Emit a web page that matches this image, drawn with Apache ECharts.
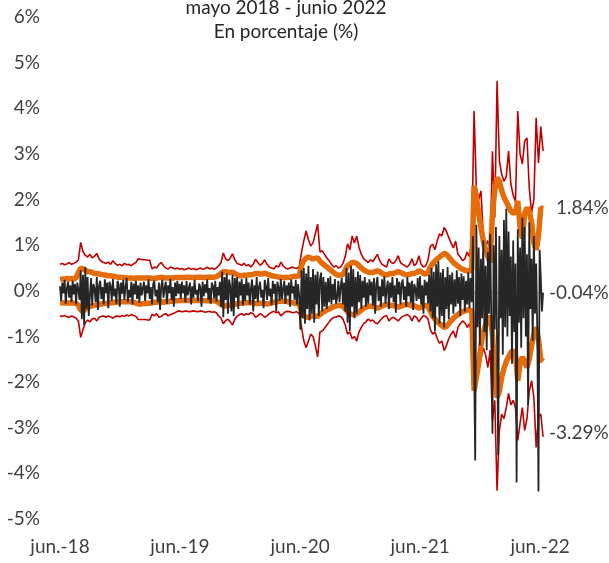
<!DOCTYPE html>
<html>
<head>
<meta charset="utf-8">
<script src="https://cdn.jsdelivr.net/npm/echarts@6/dist/echarts.min.js"></script>
<style>html,body{margin:0;padding:0;background:#fff;}#c{width:609px;height:563px;}</style>
</head>
<body>
<div id="c"></div>
<script>
// ---- Data (percent) ----
const titleLines = ['mayo 2018 - junio 2022', 'En porcentaje (%)'];
const tickDates = ['2018-06-01', '2019-06-01', '2020-06-01', '2021-06-01', '2022-06-01'];
const tickLabels = ['jun.-18', 'jun.-19', 'jun.-20', 'jun.-21', 'jun.-22'];
const startDate = '2018-06-01';
const bandStepDays = 7;
const returnStepDays = 3.5;
const endLabels = ['1.84%', '-0.04%', '-3.29%'];
const meanValues = [-0.04, -0.04];

// red: upper 2-sigma band (weekly)
const redUpper = [
0.58,0.60,0.57,0.59,0.62,0.58,0.60,0.63,0.68,1.06,
0.86,0.78,0.74,0.80,0.72,0.76,0.82,0.70,0.64,0.62,
0.60,0.63,0.58,0.66,0.60,0.56,0.58,0.55,0.60,0.57,
0.58,0.55,0.59,0.62,0.70,0.69,0.68,0.68,0.67,0.67,
0.48,0.52,0.50,0.58,0.62,0.55,0.50,0.48,0.52,0.50,
0.48,0.50,0.47,0.49,0.46,0.48,0.50,0.47,0.49,0.46,
0.48,0.50,0.47,0.49,0.52,0.48,0.50,0.47,0.50,0.55,
0.62,0.83,0.70,0.66,0.72,0.81,0.68,0.60,0.58,0.56,
0.60,0.55,0.57,0.52,0.58,0.69,0.62,0.56,0.60,0.68,
0.58,0.52,0.50,0.48,0.55,0.52,0.63,0.55,0.50,0.48,
0.50,0.52,0.50,0.49,0.53,0.85,1.10,1.31,1.12,0.98,
1.05,1.25,1.46,0.85,0.88,0.80,0.72,0.66,0.58,0.52,
0.55,0.50,0.52,0.60,0.75,1.03,0.90,1.20,1.05,1.20,
0.95,0.80,0.70,0.66,0.62,0.68,0.64,0.72,0.80,0.66,
0.58,0.55,0.52,0.70,0.62,0.60,0.66,0.77,0.62,0.58,
0.55,0.52,0.58,0.70,0.55,0.60,0.77,0.58,0.52,0.55,
0.68,0.98,1.02,0.90,1.10,1.25,1.20,1.39,1.30,1.17,
1.05,0.94,1.09,0.80,0.74,0.66,0.70,0.85,0.75,1.10,
3.94,2.25,2.00,2.19,1.25,0.95,1.10,0.88,3.06,1.60,
4.60,2.85,2.56,2.40,2.50,3.06,2.34,2.10,1.95,3.94,
3.00,2.78,3.28,3.35,2.25,1.70,2.00,3.79,2.80,3.60,3.06
];
// orange: upper 1-sigma band (weekly)
const orangeUpper = [
0.25,0.26,0.26,0.27,0.26,0.27,0.26,0.28,0.40,0.50,
0.48,0.45,0.42,0.42,0.40,0.38,0.38,0.37,0.36,0.35,
0.34,0.33,0.33,0.32,0.31,0.30,0.30,0.29,0.29,0.28,
0.28,0.28,0.27,0.28,0.28,0.28,0.28,0.28,0.28,0.28,
0.27,0.27,0.28,0.29,0.30,0.29,0.28,0.28,0.28,0.28,
0.29,0.29,0.29,0.29,0.29,0.30,0.30,0.29,0.29,0.29,
0.30,0.30,0.29,0.29,0.30,0.30,0.30,0.30,0.31,0.34,
0.38,0.42,0.42,0.40,0.40,0.41,0.38,0.35,0.33,0.33,
0.34,0.34,0.35,0.35,0.36,0.38,0.38,0.37,0.37,0.39,
0.37,0.35,0.33,0.32,0.31,0.30,0.30,0.29,0.29,0.29,
0.30,0.31,0.32,0.32,0.33,0.55,0.66,0.72,0.74,0.72,
0.70,0.71,0.72,0.65,0.60,0.56,0.52,0.48,0.44,0.40,
0.36,0.34,0.34,0.36,0.45,0.55,0.58,0.62,0.62,0.60,
0.55,0.50,0.46,0.43,0.41,0.40,0.40,0.42,0.44,0.42,
0.38,0.36,0.35,0.37,0.38,0.38,0.40,0.42,0.40,0.38,
0.36,0.35,0.36,0.38,0.38,0.40,0.44,0.42,0.38,0.37,
0.40,0.52,0.60,0.65,0.70,0.74,0.78,0.82,0.80,0.74,
0.68,0.62,0.58,0.54,0.50,0.47,0.45,0.44,0.44,0.45,
2.30,2.05,1.70,1.40,1.10,0.90,0.75,0.62,1.70,2.20,
2.48,2.40,2.20,2.05,1.95,1.85,1.75,1.70,1.72,1.97,
1.40,1.15,1.70,1.82,1.75,1.50,1.05,0.90,1.20,1.82,1.80
];
// orange: lower 1-sigma band (weekly)
const orangeLower = [
-0.26,-0.26,-0.27,-0.26,-0.27,-0.26,-0.27,-0.27,-0.32,-0.42,
-0.45,-0.40,-0.36,-0.34,-0.33,-0.32,-0.31,-0.30,-0.29,-0.28,
-0.28,-0.27,-0.26,-0.26,-0.25,-0.25,-0.24,-0.24,-0.24,-0.24,
-0.24,-0.24,-0.25,-0.27,-0.29,-0.29,-0.28,-0.28,-0.27,-0.27,
-0.26,-0.25,-0.25,-0.24,-0.24,-0.25,-0.24,-0.24,-0.23,-0.23,
-0.22,-0.22,-0.21,-0.21,-0.21,-0.21,-0.21,-0.21,-0.21,-0.21,
-0.21,-0.21,-0.21,-0.22,-0.22,-0.22,-0.22,-0.22,-0.23,-0.26,
-0.30,-0.33,-0.33,-0.32,-0.32,-0.32,-0.30,-0.28,-0.27,-0.27,
-0.26,-0.26,-0.26,-0.26,-0.27,-0.28,-0.28,-0.27,-0.27,-0.28,
-0.29,-0.28,-0.26,-0.25,-0.24,-0.23,-0.23,-0.23,-0.23,-0.24,
-0.25,-0.26,-0.27,-0.28,-0.29,-0.45,-0.55,-0.58,-0.58,-0.56,
-0.55,-0.56,-0.56,-0.52,-0.48,-0.45,-0.42,-0.40,-0.37,-0.35,
-0.33,-0.32,-0.32,-0.34,-0.40,-0.46,-0.50,-0.52,-0.52,-0.50,
-0.46,-0.42,-0.38,-0.36,-0.34,-0.34,-0.34,-0.36,-0.38,-0.36,
-0.33,-0.31,-0.30,-0.31,-0.32,-0.32,-0.34,-0.36,-0.34,-0.32,
-0.30,-0.30,-0.31,-0.33,-0.33,-0.35,-0.38,-0.36,-0.33,-0.32,
-0.35,-0.45,-0.55,-0.62,-0.68,-0.72,-0.76,-0.80,-0.78,-0.72,
-0.66,-0.60,-0.56,-0.52,-0.48,-0.46,-0.44,-0.42,-0.42,-0.44,
-2.19,-1.90,-1.60,-1.20,-0.90,-0.75,-0.65,-0.55,-0.95,-1.80,
-2.34,-2.20,-1.90,-1.70,-1.55,-1.45,-1.35,-1.30,-1.40,-1.97,
-1.60,-1.45,-1.55,-1.68,-1.50,-1.20,-0.95,-0.80,-1.05,-1.50,-1.55
];
// red: lower 2-sigma band (weekly)
const redLower = [
-0.55,-0.56,-0.54,-0.57,-0.58,-0.55,-0.57,-0.60,-0.66,-1.02,
-0.85,-0.70,-0.64,-0.68,-0.62,-0.60,-0.66,-0.58,-0.56,-0.55,
-0.58,-0.55,-0.57,-0.60,-0.56,-0.55,-0.57,-0.54,-0.56,-0.53,
-0.55,-0.52,-0.54,-0.56,-0.63,-0.63,-0.63,-0.63,-0.64,-0.64,
-0.52,-0.55,-0.50,-0.58,-0.56,-0.52,-0.50,-0.55,-0.52,-0.50,
-0.48,-0.45,-0.44,-0.46,-0.45,-0.44,-0.46,-0.45,-0.44,-0.45,
-0.46,-0.44,-0.45,-0.47,-0.46,-0.45,-0.47,-0.46,-0.48,-0.55,
-0.60,-0.72,-0.65,-0.62,-0.68,-0.75,-0.62,-0.56,-0.52,-0.50,
-0.54,-0.50,-0.52,-0.48,-0.50,-0.58,-0.55,-0.50,-0.53,-0.58,
-0.55,-0.50,-0.47,-0.45,-0.48,-0.46,-0.55,-0.50,-0.46,-0.45,
-0.46,-0.48,-0.47,-0.46,-0.50,-0.80,-1.10,-1.25,-1.10,-0.95,
-1.00,-1.20,-1.45,-0.90,-0.88,-0.82,-0.75,-0.68,-0.62,-0.58,
-0.58,-0.55,-0.56,-0.62,-0.75,-0.95,-0.90,-1.05,-1.00,-1.10,
-0.90,-0.80,-0.72,-0.68,-0.62,-0.66,-0.64,-0.70,-0.72,-0.66,
-0.60,-0.56,-0.54,-0.66,-0.60,-0.58,-0.62,-0.66,-0.60,-0.56,
-0.54,-0.52,-0.56,-0.66,-0.55,-0.58,-0.68,-0.60,-0.54,-0.56,
-0.62,-0.85,-0.95,-0.90,-1.05,-1.15,-1.10,-1.31,-1.20,-1.05,
-0.95,-0.88,-1.03,-0.80,-0.72,-0.66,-0.70,-0.80,-0.72,-0.95,
-2.10,-2.00,-1.70,-1.50,-1.25,-1.40,-1.68,-1.30,-2.84,-2.40,
-4.38,-3.06,-2.70,-2.80,-2.56,-2.25,-2.50,-2.40,-2.56,-3.28,
-2.90,-2.56,-3.06,-2.80,-2.20,-1.97,-2.34,-3.43,-2.75,-2.70,-3.20
];
// black: returns (twice weekly)
const returns = [
0.10,-0.22,0.18,-0.05,0.24,-0.28,0.05,0.20,-0.15,0.12,-0.25,0.22,-0.08,0.15,-0.30,0.18,0.02,-0.20,
0.45,-0.62,0.35,-0.75,0.52,-0.40,0.30,-0.55,
-0.10,0.28,-0.32,0.15,0.05,-0.25,0.30,-0.42,0.12,0.22,
-0.18,0.08,-0.30,0.25,-0.05,0.18,-0.38,0.20,0.10,-0.22,
0.26,-0.12,0.05,-0.28,0.22,0.14,-0.35,0.18,-0.06,0.24,
-0.20,0.10,0.28,-0.25,0.02,-0.15,0.20,-0.30,0.16,-0.08,
0.22,-0.18,0.12,-0.26,
0.18,-0.10,0.05,0.20,-0.22,0.12,-0.05,0.25,-0.18,0.08,
-0.30,0.15,0.22,-0.12,0.02,-0.25,0.18,-0.42,0.10,0.24,
-0.15,0.06,0.20,-0.28,0.12,-0.05,0.26,-0.20,0.08,-0.35,
0.18,-0.12,0.22,-0.06,0.15,
-0.18,0.20,-0.05,0.12,-0.25,0.22,-0.10,0.05,0.18,-0.30,
0.10,-0.15,0.24,-0.08,0.02,-0.22,0.16,0.08,-0.35,0.20,
-0.12,0.14,-0.04,0.25,-0.20,0.06,-0.28,0.18,0.10,-0.16,
0.22,-0.24,0.08,-0.10,0.20,
-0.35,0.42,-0.58,0.30,-0.20,0.38,-0.50,0.25,0.10,-0.45,
0.35,-0.55,0.28,-0.15,0.30,-0.40,0.20,-0.10,0.26,-0.32,0.15,
-0.22,0.28,-0.10,0.18,-0.30,0.06,0.25,-0.45,0.12,-0.18,
0.30,-0.25,0.08,0.20,-0.15,0.02,-0.38,0.24,0.10,-0.20,
0.28,-0.12,0.05,-0.32,0.22,-0.06,0.15,-0.45,0.20,0.08,
-0.22,0.26,-0.18,0.04,0.22,-0.28,0.12,-0.10,0.18,-0.35,
0.25,-0.05,0.10,-0.20,0.24,-0.30,0.15,-0.12,
-0.85,0.45,-0.60,0.50,-0.72,0.38,-0.40,0.55,-0.65,0.30,
-0.50,0.48,-0.70,0.35,-0.30,0.42,-0.55,0.25,0.40,-0.45,
0.30,-0.35,0.20,-0.40,0.28,-0.25,0.32,-0.30,0.15,-0.20,
0.26,-0.28,
-0.15,0.22,-0.25,0.10,0.28,-0.30,0.18,-0.45,0.50,-0.70,
0.40,-0.88,0.55,-0.35,0.48,-0.60,0.30,-0.50,0.42,-0.25,
0.35,-0.40,0.22,-0.15,0.30,-0.35,0.18,-0.28,0.25,-0.10,
0.20,-0.32,0.28,-0.50,0.15,0.30,-0.22,0.10,-0.35,0.25,
-0.12,0.32,-0.28,0.05,0.22,-0.40,0.18,-0.15,0.30,-0.25,
0.12,-0.48,0.28,-0.08,0.20,-0.30,0.15,0.25,-0.20,0.10,
-0.35,0.30,-0.12,0.18,-0.26,0.22,-0.42,0.15,0.05,-0.22,
0.28,-0.18,0.32,-0.30,0.12,-0.50,0.24,-0.10,0.20,-0.28,
0.35,-0.45,0.50,-0.60,0.42,-0.88,0.58,-0.35,0.65,-0.72,
0.40,-0.55,0.48,-0.80,0.30,-0.40,0.52,-0.62,0.35,-0.30,
0.40,-0.50,0.25,-0.35,0.45,-0.28,0.30,-0.55,0.38,-0.20,
0.32,-0.45,0.22,-0.30,0.40,-0.38,0.28,-0.25,
1.20,-1.50,-3.72,1.45,-0.80,0.95,-1.20,0.70,-0.60,1.10,
-0.90,0.55,-1.30,0.85,-0.50,1.25,-0.70,-3.13,1.00,-0.85,
1.40,-1.10,-3.60,1.20,-0.60,0.90,-1.40,1.55,-0.80,1.80,
-1.00,1.30,-0.55,0.75,-1.60,1.10,-0.90,0.60,-4.20,1.35,
-0.70,0.95,-1.25,1.60,-0.60,1.40,-1.00,0.80,-2.50,1.50,
-0.40,0.70,-1.10,1.20,-0.50,0.60,-0.90,-4.40,0.90,0.30,
-0.45,-0.04
];

// ---- Build (x in days since startDate) ----
const DAY = 86400000;
const t0 = Date.parse(startDate + 'T00:00:00Z');
const bandData = arr => arr.map((v, k) => [k * bandStepDays, v]);
const retData = returns.map((v, k) => [k * returnStepDays, v]);
const dEnd = (redUpper.length - 1) * bandStepDays;
const meanData = [[0, meanValues[0]], [dEnd, meanValues[1]]];
const tickDays = tickDates.map(d => (Date.parse(d + 'T00:00:00Z') - t0) / DAY);

const FONT = 'Lato';
const chart = echarts.init(document.getElementById('c'), null, {renderer: 'canvas'});
const lineBase = {type: 'line', symbol: 'none', showSymbol: false, animation: false, silent: true};

chart.setOption({
  animation: false,
  backgroundColor: '#ffffff',
  grid: {left: 48, right: 61, top: 17, bottom: 44},
  xAxis: {
    type: 'value',
    min: -36.5,
    max: 1485,
    axisLine: {show: false},
    axisTick: {show: false},
    splitLine: {show: false},
    axisLabel: {
      customValues: tickDays,
      margin: 18,
      color: '#404040',
      fontFamily: FONT,
      fontSize: 19,
      formatter: function (v) {
        let best = 0, bd = Infinity;
        tickDays.forEach((t, k) => { const d = Math.abs(t - v); if (d < bd) { bd = d; best = k; } });
        return tickLabels[best];
      }
    }
  },
  yAxis: {
    type: 'value',
    min: -5, max: 6, interval: 1,
    axisLine: {show: false},
    axisTick: {show: false},
    splitLine: {show: false},
    axisLabel: {formatter: '{value}%', color: '#404040', fontFamily: FONT, fontSize: 19, margin: 8}
  },
  graphic: [
    {type: 'text', x: 286, y: 8, style: {text: titleLines[0], font: '19px ' + FONT, fill: '#262626', align: 'center', verticalAlign: 'middle'}},
    {type: 'text', x: 286, y: 32, style: {text: titleLines[1], font: '19px ' + FONT, fill: '#262626', align: 'center', verticalAlign: 'middle'}},
    {type: 'text', x: 556, y: 208, style: {text: endLabels[0], font: '19px ' + FONT, fill: '#404040', verticalAlign: 'middle'}},
    {type: 'text', x: 549, y: 293, style: {text: endLabels[1], font: '19px ' + FONT, fill: '#404040', verticalAlign: 'middle'}},
    {type: 'text', x: 549, y: 433, style: {text: endLabels[2], font: '19px ' + FONT, fill: '#404040', verticalAlign: 'middle'}}
  ],
  series: [
    Object.assign({}, lineBase, {name: 'redU', data: bandData(redUpper), z: 2, lineStyle: {color: '#C00000', width: 1.6}}),
    Object.assign({}, lineBase, {name: 'redL', data: bandData(redLower), z: 2, lineStyle: {color: '#C00000', width: 1.6}}),
    Object.assign({}, lineBase, {name: 'orU', data: bandData(orangeUpper), z: 3, lineStyle: {color: '#E46C0A', width: 5.5}}),
    Object.assign({}, lineBase, {name: 'orL', data: bandData(orangeLower), z: 3, lineStyle: {color: '#E46C0A', width: 5.5}}),
    Object.assign({}, lineBase, {name: 'mean', data: meanData, z: 4, lineStyle: {color: '#BFBFBF', width: 1.5}}),
    Object.assign({}, lineBase, {name: 'ret', data: retData, z: 5, lineStyle: {color: '#262626', width: 1.8}})
  ]
});
</script>
</body>
</html>
